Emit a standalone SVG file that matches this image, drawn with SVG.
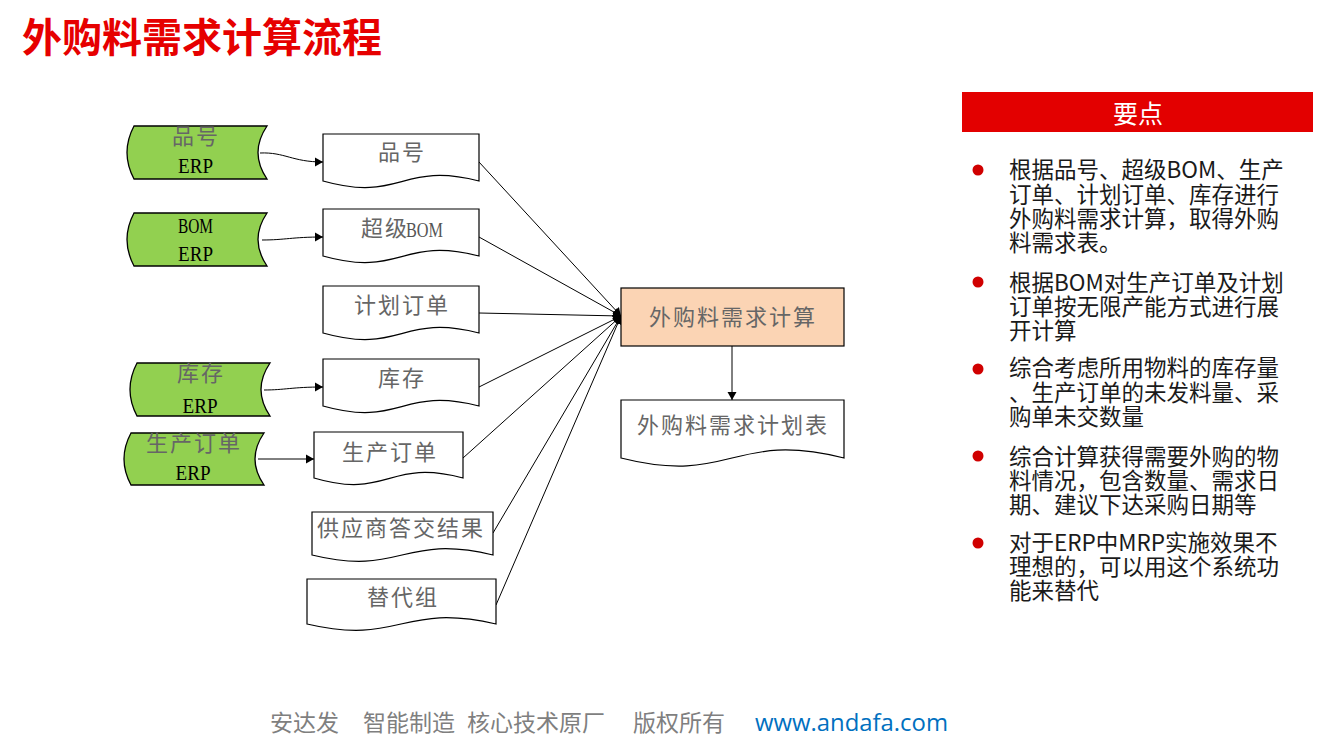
<svg xmlns="http://www.w3.org/2000/svg" width="1334" height="744" viewBox="0 0 1334 744">
<defs>
<marker id="arr" markerUnits="userSpaceOnUse" markerWidth="9" markerHeight="10" refX="8" refY="5" orient="auto" viewBox="0 0 9 10">
<path d="M0,0.5 L8,5 L0,9.5 Z" fill="#000"/>
</marker>
<style>
.doc{fill:#fff;stroke:#000;stroke-width:1.2}
.store{fill:#92D050;stroke:#000;stroke-width:1.3}
.calc{fill:#FBD4B4;stroke:#000;stroke-width:1.2}
.lbl{font-family:"Noto Sans CJK SC","Liberation Serif",serif;font-size:22px;fill:#666;letter-spacing:2px;text-anchor:middle}
.erp{font-family:"Liberation Serif",serif;font-size:22px;fill:#000;text-anchor:middle}
.lat{font-family:"Liberation Serif",serif;font-size:21px;fill:#555}
.con{fill:none;stroke:#000;stroke-width:1}
.bul{font-family:"Noto Sans CJK SC","Liberation Sans",sans-serif;font-size:22.5px;fill:#1a1a1a}
.dot{fill:#D00000}
.foot{font-family:"Noto Sans CJK SC","Liberation Sans",sans-serif;font-size:23px;fill:#7f7f7f}
</style>
</defs>
<rect width="1334" height="744" fill="#fff"/>

<text x="22" y="52" font-family="Noto Sans CJK SC, Liberation Sans, sans-serif" font-size="40" font-weight="700" fill="#E60000">外购料需求计算流程</text>

<g id="connectors">
<path class="con" d="M260,153 C285,152 292,162 323,162" marker-end="url(#arr)"/>
<path class="con" d="M262,240 C285,240 292,237 323,237" marker-end="url(#arr)"/>
<path class="con" d="M264,390 C285,390 292,387 323,387" marker-end="url(#arr)"/>
<path class="con" d="M258,459 L314,459" marker-end="url(#arr)"/>
<path class="con" d="M479,162 L621,316" marker-end="url(#arr)"/>
<path class="con" d="M479,237 L621,316" marker-end="url(#arr)"/>
<path class="con" d="M479,313 L621,316" marker-end="url(#arr)"/>
<path class="con" d="M479,387 L621,316" marker-end="url(#arr)"/>
<path class="con" d="M463,458 L621,316" marker-end="url(#arr)"/>
<path class="con" d="M493,533 L621,316" marker-end="url(#arr)"/>
<path class="con" d="M496,605 L621,316" marker-end="url(#arr)"/>
<path class="con" d="M732,346 L732,400" marker-end="url(#arr)"/>
</g>

<g id="erp-pinhao">
<path class="store" d="M134,126 L267,126 Q249,152.5 267,179 L134,179 Q120,152.5 134,126 Z"/>
<text class="lbl" x="196" y="144">品号</text>
<text class="erp" x="195.5" y="173" textLength="35" lengthAdjust="spacingAndGlyphs">ERP</text>
</g>
<g id="erp-bom">
<path class="store" d="M134,213 L267,213 Q249,239.5 267,266 L134,266 Q120,239.5 134,213 Z"/>
<text class="erp" x="195.5" y="233" textLength="35" lengthAdjust="spacingAndGlyphs">BOM</text>
<text class="erp" x="195.5" y="261" textLength="35" lengthAdjust="spacingAndGlyphs">ERP</text>
</g>
<g id="erp-kucun">
<path class="store" d="M137,363 L270,363 Q252,389.5 270,416 L137,416 Q123,389.5 137,363 Z"/>
<text class="lbl" x="201" y="381">库存</text>
<text class="erp" x="200" y="413" textLength="35" lengthAdjust="spacingAndGlyphs">ERP</text>
</g>
<g id="erp-scdd">
<path class="store" d="M131,433 L264,433 Q246,459 264,485 L131,485 Q117,459 131,433 Z"/>
<text class="lbl" x="194" y="451">生产订单</text>
<text class="erp" x="193" y="480" textLength="35" lengthAdjust="spacingAndGlyphs">ERP</text>
</g>

<g id="doc-pinhao">
<path class="doc" d="M323,134 H479 V181 C401,161 401,203 323,181 Z"/>
<text class="lbl" x="402" y="160">品号</text>
</g>
<g id="doc-bom">
<path class="doc" d="M323,209 H479 V256 C401,236 401,278 323,256 Z"/>
<text class="lbl" x="385" y="236">超级</text>
<text class="lat" x="406" y="237" textLength="37" lengthAdjust="spacingAndGlyphs">BOM</text>
</g>
<g id="doc-jhdd">
<path class="doc" d="M323,286 H479 V333 C401,313 401,355 323,333 Z"/>
<text class="lbl" x="402" y="313">计划订单</text>
</g>
<g id="doc-kucun">
<path class="doc" d="M323,359 H479 V406 C401,386 401,428 323,406 Z"/>
<text class="lbl" x="402" y="386">库存</text>
</g>
<g id="doc-scdd">
<path class="doc" d="M314,432 H463 V478 C388,458 388,500 314,478 Z"/>
<text class="lbl" x="390" y="460">生产订单</text>
</g>
<g id="doc-gys">
<path class="doc" d="M312,512 H493 V555 C402,533 402,577 312,555 Z"/>
<text class="lbl" x="401" y="536">供应商答交结果</text>
</g>
<g id="doc-tdz">
<path class="doc" d="M307,579 H496 V624 C401,602 401,646 307,624 Z"/>
<text class="lbl" x="403" y="605">替代组</text>
</g>

<g id="calc">
<rect class="calc" x="621" y="288" width="223" height="58"/>
<text class="lbl" x="733" y="325">外购料需求计算</text>
</g>
<g id="doc-plan">
<path class="doc" d="M621,400 H844 V458 C732,430 732,486 621,458 Z"/>
<text class="lbl" x="733" y="433">外购料需求计划表</text>
</g>

<g id="keypoints">
<rect x="962" y="92" width="351" height="40" fill="#E30000"/>
<text x="1138" y="123" font-family="Noto Sans CJK SC, Liberation Sans, sans-serif" font-size="25" fill="#fff" text-anchor="middle">要点</text>
<circle class="dot" cx="978" cy="170" r="5.5"/>
<text class="bul" x="1009" y="178">根据品号、超级BOM、生产</text>
<text class="bul" x="1009" y="202.5">订单、计划订单、库存进行</text>
<text class="bul" x="1009" y="227">外购料需求计算，取得外购</text>
<text class="bul" x="1009" y="251">料需求表。</text>
<circle class="dot" cx="978" cy="282" r="5.5"/>
<text class="bul" x="1009" y="290.5">根据BOM对生产订单及计划</text>
<text class="bul" x="1009" y="314.5">订单按无限产能方式进行展</text>
<text class="bul" x="1009" y="339">开计算</text>
<circle class="dot" cx="978" cy="369" r="5.5"/>
<text class="bul" x="1009" y="376">综合考虑所用物料的库存量</text>
<text class="bul" x="1009" y="400.5">、生产订单的未发料量、采</text>
<text class="bul" x="1009" y="425">购单未交数量</text>
<circle class="dot" cx="978" cy="456" r="5.5"/>
<text class="bul" x="1009" y="464.5">综合计算获得需要外购的物</text>
<text class="bul" x="1009" y="489">料情况，包含数量、需求日</text>
<text class="bul" x="1009" y="513">期、建议下达采购日期等</text>
<circle class="dot" cx="978" cy="543" r="5.5"/>
<text class="bul" x="1009" y="551">对于ERP中MRP实施效果不</text>
<text class="bul" x="1009" y="575">理想的，可以用这个系统功</text>
<text class="bul" x="1009" y="599">能来替代</text>
</g>

<g id="footer">
<text class="foot" x="270" y="731">安达发</text>
<text class="foot" x="363" y="731">智能制造</text>
<text class="foot" x="467" y="731">核心技术原厂</text>
<text class="foot" x="633" y="731">版权所有</text>
<text x="755" y="731" font-family="Open Sans, Liberation Sans, sans-serif" font-size="23" fill="#0070C0" textLength="193" lengthAdjust="spacingAndGlyphs">www.andafa.com</text>
</g>
</svg>
